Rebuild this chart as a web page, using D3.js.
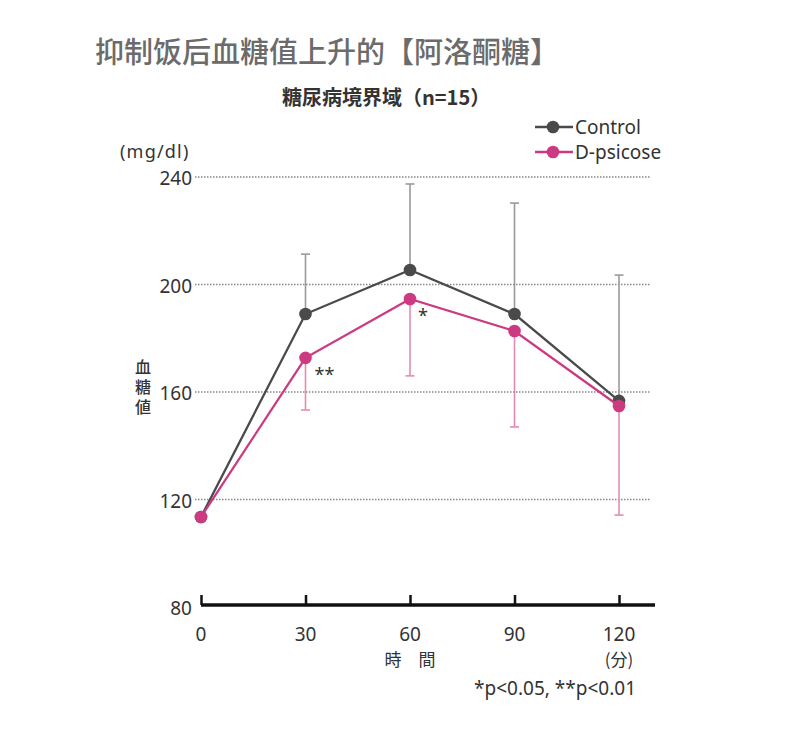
<!DOCTYPE html>
<html><head><meta charset="utf-8">
<script src="https://cdn.jsdelivr.net/npm/d3@7"></script>
<style>body{margin:0;background:#fff;}svg{display:block;}</style>
</head><body>
<script>
const times = [0, 30, 60, 90, 120];
const controlMean = [113.5, 189, 205.4, 189, 156.7];
const controlUpper = [113.5, 211.3, 237.4, 230.3, 203.5];
const psicoseMean = [113.5, 172.7, 194.6, 182.7, 154.8];
const psicoseLower = [113.5, 153.3, 166, 147, 114.2];
const yTicks = [80, 120, 160, 200, 240];
const xTicks = [0, 30, 60, 90, 120];
const seriesNames = ["Control", "D-psicose"];
const sigMarks = [{t: 30, v: 172.7, label: "**"}, {t: 60, v: 194.6, label: "*"}];

const W = 800, H = 743;
const svg = d3.select("body").append("svg").attr("width", W).attr("height", H);
const x = d3.scaleLinear().domain([0, 120]).range([201, 619]);
const y = d3.scaleLinear().domain([80, 240]).range([607, 177]);
const cCol = "#4a4a4a", cErr = "#9a9a9a", pCol = "#cc3a82", pErr = "#e58ab3";
const font = "'Noto Sans', 'Open Sans', sans-serif";
const cjk = "'Noto Sans CJK JP', 'Noto Sans CJK SC', sans-serif";

svg.append("text").attr("x", 95).attr("y", 63).attr("font-family", "'Noto Sans CJK SC', serif")
  .attr("font-size", 29).attr("font-weight", 500).attr("fill", "#6b6b6b").text("抑制饭后血糖值上升的【阿洛酮糖】");
svg.append("text").attr("x", 282).attr("y", 105).attr("font-family", cjk)
  .attr("font-size", 20).attr("font-weight", 700).attr("fill", "#333").text("糖尿病境界域（n=15）");

// grid
svg.append("g").selectAll("line").data(yTicks.filter(d => d > 80)).join("line")
  .attr("x1", 195).attr("x2", 650).attr("y1", d => y(d)).attr("y2", d => y(d))
  .attr("stroke", "#888").attr("stroke-width", 1.3).attr("stroke-dasharray", "1.5,1.5");

// y labels
svg.append("g").selectAll("text").data(yTicks).join("text")
  .attr("x", 192).attr("y", d => y(d) + 8).attr("text-anchor", "end")
  .attr("font-family", font).attr("font-size", 19).attr("fill", "#333").text(d => d);
svg.append("text").attr("x", 120).attr("y", 158).attr("font-family", font).attr("font-size", 18)
  .attr("letter-spacing", 1.2).attr("fill", "#333").text("(mg/dl)");
svg.append("text").attr("x", 143).attr("y", 359).attr("writing-mode", "vertical-rl")
  .attr("font-family", cjk).attr("font-size", 16).attr("font-weight", 500).attr("letter-spacing", 4)
  .attr("fill", "#333").text("血糖値");

// x axis
const xAxis = d3.axisTop(x).tickValues(xTicks).tickSize(10).tickFormat("");
const gx = svg.append("g").attr("transform", `translate(0,${y(80) - 2})`).call(xAxis);
gx.select(".domain").attr("d", `M${x(0)},0H655`).attr("stroke", "#111").attr("stroke-width", 3.5);
gx.selectAll(".tick line").attr("stroke", "#111").attr("stroke-width", 2.5);
svg.append("g").selectAll("text").data(xTicks).join("text")
  .attr("x", d => x(d)).attr("y", 641).attr("text-anchor", "middle")
  .attr("font-family", font).attr("font-size", 19).attr("fill", "#333").text(d => d);
svg.append("text").attr("x", x(60)).attr("y", 666).attr("text-anchor", "middle")
  .attr("font-family", cjk).attr("font-size", 17).attr("fill", "#333").text("時　間");
svg.append("text").attr("x", x(120)).attr("y", 666).attr("text-anchor", "middle")
  .attr("font-family", cjk).attr("font-size", 17).attr("fill", "#333").text("(分)");
svg.append("text").attr("x", 636).attr("y", 695).attr("text-anchor", "end")
  .attr("font-family", font).attr("font-size", 19).attr("fill", "#333").text("*p<0.05, **p<0.01");

// error bars
function errBars(vals, ends, col) {
  const g = svg.append("g");
  times.forEach((t, i) => {
    if (t === 0) return;
    g.append("line").attr("x1", x(t)).attr("x2", x(t)).attr("y1", y(vals[i])).attr("y2", y(ends[i]))
      .attr("stroke", col).attr("stroke-width", 1.6);
    g.append("line").attr("x1", x(t) - 4.5).attr("x2", x(t) + 4.5).attr("y1", y(ends[i])).attr("y2", y(ends[i]))
      .attr("stroke", col).attr("stroke-width", 1.6);
  });
}
errBars(controlMean, controlUpper, cErr);
errBars(psicoseMean, psicoseLower, pErr);

const line = d3.line().x((d, i) => x(times[i])).y(d => y(d));
function series(vals, col) {
  svg.append("path").datum(vals).attr("d", line).attr("fill", "none").attr("stroke", col).attr("stroke-width", 2.3);
  svg.append("g").selectAll("circle").data(vals).join("circle")
    .attr("cx", (d, i) => x(times[i])).attr("cy", d => y(d)).attr("r", 6.3).attr("fill", col);
}
series(controlMean, cCol);
series(psicoseMean, pCol);

svg.append("g").selectAll("text").data(sigMarks).join("text")
  .attr("x", d => x(d.t) + (d.label === "**" ? 9 : 8)).attr("y", d => y(d.v) + 23)
  .attr("font-family", font).attr("font-size", 18).attr("fill", "#333").text(d => d.label);

// legend
const leg = svg.append("g");
[[cCol, 127], [pCol, 152]].forEach(([col, ly], i) => {
  leg.append("line").attr("x1", 535).attr("x2", 573).attr("y1", ly).attr("y2", ly).attr("stroke", col).attr("stroke-width", 2.3);
  leg.append("circle").attr("cx", 553).attr("cy", ly).attr("r", 6.3).attr("fill", col);
  leg.append("text").attr("x", 575).attr("y", ly + 7).attr("font-family", font).attr("font-size", 19)
    .attr("fill", "#333").text(seriesNames[i]);
});
</script>
</body></html>
